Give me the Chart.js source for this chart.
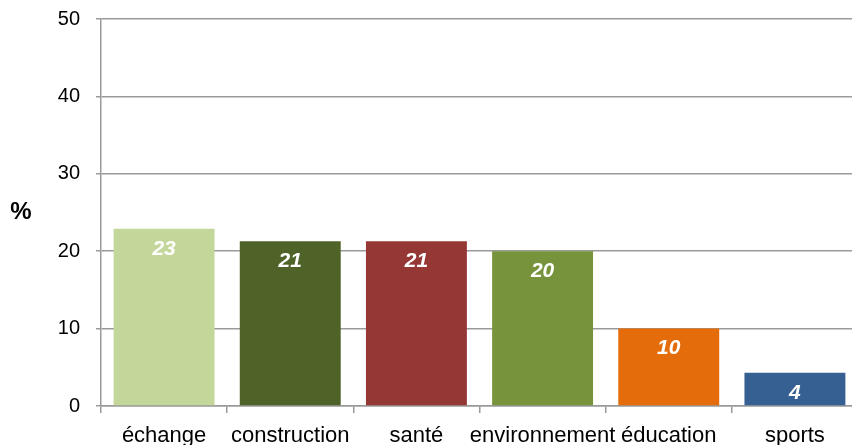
<!DOCTYPE html>
<html>
<head>
<meta charset="utf-8">
<script src="https://cdn.jsdelivr.net/npm/chart.js@4"></script>
<style>
  html, body { margin: 0; padding: 0; background: #fff; overflow: hidden; }
  #wrap { width: 860px; height: 445px; }
</style>
</head>
<body>
<div id="wrap"><canvas id="myChart" width="860" height="445"></canvas></div>
<script>
const ctx = document.getElementById('myChart').getContext("2d");

// data
const categories = ['échange', 'construction', 'santé', 'environnement', 'éducation', 'sports'];
const values = [22.9, 21.3, 21.3, 20.0, 10.0, 4.3];
const barColors = ['#C4D79B', '#4F6228', '#953735', '#77933C', '#E46C0A', '#376092'];
const yTicks = [0, 10, 20, 30, 40, 50];
const yTitle = '%';

const gridGray = '#9a9a9a';
const font = "'Liberation Sans', Arial, sans-serif";

//value labels inside the bars + the % title
const barLabels = {
    id: 'barLabels',
    afterDatasetsDraw: chart => {
        const c = chart.ctx;
        c.save();
        c.fillStyle = '#fff';
        c.font = 'italic bold 21px ' + font;
        c.textAlign = 'center';
        c.textBaseline = 'middle';
        chart.getDatasetMeta(0).data.forEach((bar, i) => {
            c.fillText(Math.round(values[i]), bar.x, bar.y + 20);
        });
        c.fillStyle = '#000';
        c.font = 'bold 24px ' + font;
        c.fillText(yTitle, 21, (chart.chartArea.top + chart.chartArea.bottom) / 2);
        c.restore();
    }
};

const config = {
    type: 'bar',
    data: {
        labels: categories,
        datasets: [{
            data: values,
            backgroundColor: barColors,
            borderWidth: 0,
            barPercentage: 0.8,
            categoryPercentage: 1.0
        }]
    },
    options: {
        responsive: false,
        animation: false,
        layout: { padding: { top: 19, right: 2, left: 0, bottom: 0 } },
        scales: {
            y: {
                min: 0,
                max: 50,
                afterBuildTicks: scale => { scale.ticks = yTicks.map(v => ({ value: v })); },
                afterFit: scale => {
                    scale.width = 101;
                    scale.paddingTop = 0;
                    scale.paddingBottom = 0;
                },
                ticks: {
                    color: '#000',
                    padding: 16,
                    font: { family: font, size: 20 }
                },
                grid: {
                    color: gridGray,
                    lineWidth: 1.5,
                    tickLength: 5
                },
                border: { color: gridGray, width: 1.5 }
            },
            x: {
                afterFit: scale => {
                    scale.height = 39;
                    scale.paddingLeft = 0;
                    scale.paddingRight = 0;
                },
                ticks: {
                    color: '#000',
                    padding: 10,
                    maxRotation: 0,
                    autoSkip: false,
                    font: { family: font, size: 22 }
                },
                grid: {
                    offset: true,
                    drawOnChartArea: false,
                    color: gridGray,
                    lineWidth: 1.5,
                    tickLength: 7
                },
                border: { color: gridGray, width: 1.5 }
            }
        },
        plugins: {
            legend: { display: false },
            tooltip: { enabled: false }
        }
    },
    plugins: [barLabels]
};

const myChart = new Chart(ctx, config);
</script>
</body>
</html>
